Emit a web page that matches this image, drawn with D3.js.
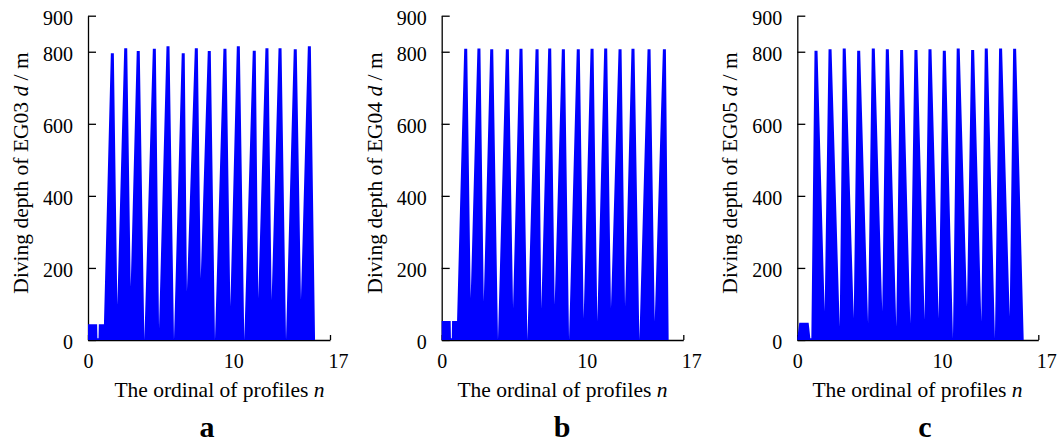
<!DOCTYPE html>
<html>
<head>
<meta charset="utf-8">
<script src="https://cdn.jsdelivr.net/npm/d3@7"></script>
<style>
  body { margin: 0; background: #fff; }
  text { font-family: "Liberation Serif", "Times New Roman", serif; fill: #000; }
</style>
</head>
<body>
<div id="chart"></div>
<script>
var gliders = ["EG03", "EG04", "EG05"];
var panelTags = ["a", "b", "c"];
var xTicks = [0, 10, 17];
var yTicks = [0, 200, 400, 600, 800, 900];

// EG03: shallow test dives, then one peak + one turning point per profile
var leadN_a = [0, 0.64, 0.66, 0.74, 0.76, 1.12];
var leadD_a = [44, 44, 5, 5, 44, 44];
var peakN_a = [1.71, 2.65, 3.53, 4.66, 5.62, 6.69, 7.61, 8.52, 9.62, 10.56, 11.68, 12.57, 13.49, 14.56, 15.55];
var peakD_a = [796, 810, 802, 808, 815, 796, 810, 802, 808, 815, 803, 810, 810, 807, 815];
var valleyN_a = [2.06, 3.00, 3.96, 4.99, 6.04, 6.95, 7.92, 8.92, 10.00, 10.98, 11.96, 12.90, 13.91, 14.96, 15.95];
var valleyD_a = [97, 148, 0, 32, 0, 134, 171, 0, 93, 0, 116, 111, 0, 111, 0];

// EG04
var leadN_b = [0, 0.63, 0.65, 0.71, 0.73, 1.08];
var leadD_b = [53, 53, 5, 5, 53, 53];
var peakN_b = [1.69, 2.62, 3.52, 4.62, 5.58, 6.71, 7.60, 8.56, 9.61, 10.58, 11.54, 12.55, 13.46, 14.59, 15.67];
var peakD_b = [808, 809, 807, 807, 808, 807, 809, 807, 807, 808, 809, 807, 808, 807, 807];
var valleyN_b = [2.04, 2.96, 3.96, 5.02, 6.03, 7.01, 7.95, 8.96, 9.99, 10.95, 11.91, 12.90, 13.91, 14.99, 15.97];
var valleyD_b = [116, 106, 0, 88, 0, 86, 97, 0, 60, 51, 88, 93, 0, 51, 0];

// EG05
var leadN_c = [0, 0.14, 0.80, 0.92, 0.99];
var leadD_c = [4, 48, 48, 5, 5];
var peakN_c = [1.32, 2.31, 3.31, 4.33, 5.36, 6.35, 7.36, 8.37, 9.36, 10.37, 11.35, 12.37, 13.33, 14.34, 15.33];
var peakD_c = [803, 807, 809, 803, 809, 807, 805, 805, 807, 803, 809, 805, 809, 809, 808];
var valleyN_c = [1.93, 2.99, 3.98, 4.99, 5.99, 6.98, 7.97, 8.98, 9.97, 10.98, 11.97, 12.98, 13.94, 14.98, 15.97];
var valleyD_c = [79, 37, 60, 46, 79, 37, 46, 56, 60, 4, 93, 51, 4, 65, 0];

var svgWidth = 1062;
var svgHeight = 443;
var plotTop = 15.7;
var plotBottom = 340;
var topHalf = 1.5; // half width of the flat spike tops, px
var tickShift = {0: 0, 10: 3, 17: 8};

var panels = [
  {left: 88, right: 330, ylabX: 28, xlabX: 219.5, tagX: 207,
   lead: [leadN_a, leadD_a], peak: [peakN_a, peakD_a], valley: [valleyN_a, valleyD_a]},
  {left: 441.7, right: 683.3, ylabX: 382, xlabX: 562.5, tagX: 562,
   lead: [leadN_b, leadD_b], peak: [peakN_b, peakD_b], valley: [valleyN_b, valleyD_b]},
  {left: 797.3, right: 1038.3, ylabX: 737, xlabX: 917.5, tagX: 925,
   lead: [leadN_c, leadD_c], peak: [peakN_c, peakD_c], valley: [valleyN_c, valleyD_c]}
];

var svg = d3.select("#chart")
  .append("svg")
  .attr("width", svgWidth)
  .attr("height", svgHeight);

panels.forEach(function (p, k) {
  var x = d3.scaleLinear().domain([0, 17]).range([p.left, p.right]);
  var y = d3.scaleLinear().domain([0, 900]).range([plotBottom, plotTop]);

  var g = svg.append("g");

  // axes first so the trace covers the inner ticks
  var xAxis = g.append("g")
    .attr("transform", `translate(0, ${plotBottom})`)
    .call(d3.axisBottom(x).tickValues(xTicks).tickSizeInner(-5).tickSizeOuter(0).tickPadding(14));
  xAxis.selectAll("text")
    .attr("dx", d => tickShift[d])
    .style("font-size", "20px");

  var yAxis = g.append("g")
    .attr("transform", `translate(${p.left}, 0)`)
    .call(d3.axisLeft(y).tickValues(yTicks).tickSizeInner(-8).tickSizeOuter(0).tickPadding(15));
  yAxis.selectAll("text")
    .attr("dy", "0.42em")
    .style("font-size", "20px");

  g.selectAll(".domain, .tick line")
    .attr("stroke", "#000")
    .attr("stroke-width", 1.3);
  g.selectAll(".tick text").attr("font-family", null);

  // build the depth trace
  var pts = p.lead[0].map(function (n, i) {
    return {n: n, d: p.lead[1][i], off: 0};
  });
  p.peak[0].forEach(function (n, i) {
    pts.push({n: n, d: p.peak[1][i], off: -topHalf});
    pts.push({n: n, d: p.peak[1][i], off: topHalf});
    pts.push({n: p.valley[0][i], d: p.valley[1][i], off: 0});
  });

  var area = d3.area()
    .x(d => x(d.n) + d.off)
    .y0(y(0))
    .y1(d => y(d.d));

  g.append("path")
    .datum(pts)
    .attr("d", area)
    .attr("fill", "#0000ff");

  // labels
  var ylab = g.append("text")
    .attr("transform", `translate(${p.ylabX}, 173) rotate(-90)`)
    .attr("text-anchor", "middle")
    .style("font-size", "21.5px");
  ylab.append("tspan").text("Diving depth of " + gliders[k] + " ");
  ylab.append("tspan").style("font-style", "italic").text("d");
  ylab.append("tspan").text(" / m");

  var xlab = g.append("text")
    .attr("x", p.xlabX)
    .attr("y", 397)
    .attr("text-anchor", "middle")
    .style("font-size", "21.5px");
  xlab.append("tspan").text("The ordinal of profiles ");
  xlab.append("tspan").style("font-style", "italic").text("n");

  g.append("text")
    .attr("x", p.tagX)
    .attr("y", 437)
    .attr("text-anchor", "middle")
    .style("font-size", "30px")
    .style("font-weight", "bold")
    .text(panelTags[k]);
});
</script>
</body>
</html>
